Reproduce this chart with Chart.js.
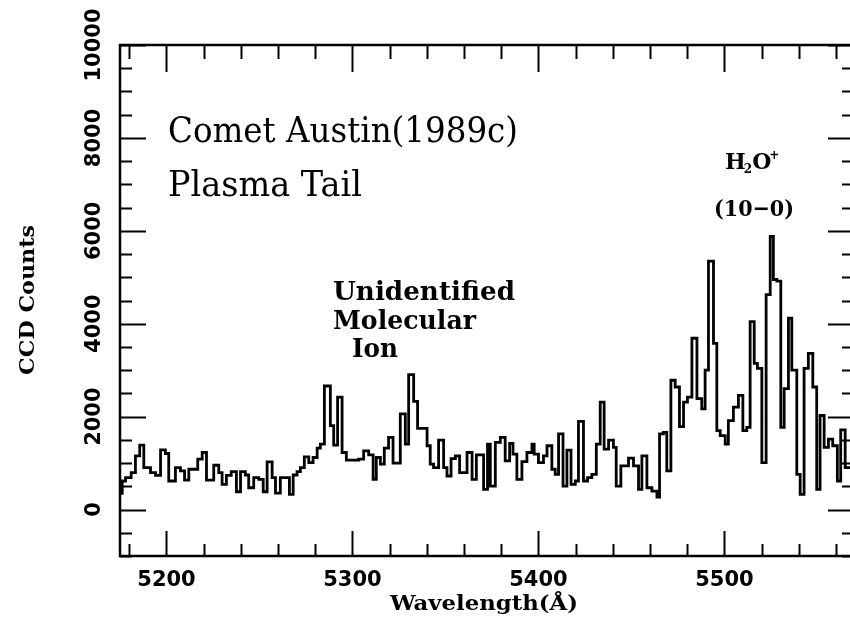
<!DOCTYPE html>
<html>
<head>
<meta charset="utf-8">
<script src="https://cdn.jsdelivr.net/npm/chart.js@4.4.0/dist/chart.umd.min.js"></script>
<style>
  html, body { margin: 0; padding: 0; background: #ffffff; }
  #wrap { width: 850px; height: 620px; }
</style>
</head>
<body>
<div id="wrap"><canvas id="spectrum" width="850" height="620"></canvas></div>
<script>
// wavelength (Å) where each histogram bin starts
const binStart = [
  5175.0, 5176.2, 5178.0, 5181.0, 5183.3, 5185.6, 5187.8, 5191.4, 5194.1, 5196.8,
  5199.4, 5201.2, 5204.8, 5207.5, 5209.7, 5212.0, 5216.8, 5219.2, 5221.5, 5225.4,
  5228.1, 5229.9, 5232.2, 5234.8, 5237.6, 5239.8, 5242.4, 5244.2, 5246.9, 5249.6,
  5252.0, 5254.1, 5256.8, 5258.6, 5261.2, 5266.1, 5268.1, 5270.2, 5272.0, 5274.1,
  5276.5, 5278.8, 5281.0, 5282.7, 5284.9, 5288.1, 5289.9, 5292.0, 5294.4, 5296.7,
  5303.3, 5306.0, 5308.7, 5311.1, 5312.8, 5315.0, 5317.1, 5319.4, 5321.8, 5325.7,
  5328.4, 5330.2, 5332.9, 5335.0, 5340.1, 5341.8, 5343.6, 5346.3, 5349.0, 5350.8,
  5353.0, 5355.3, 5357.6, 5361.6, 5364.3, 5366.6, 5370.5, 5372.6, 5374.1, 5376.8,
  5379.5, 5382.1, 5384.5, 5386.3, 5388.4, 5391.1, 5393.8, 5396.5, 5397.7, 5400.0,
  5402.7, 5404.6, 5407.2, 5409.0, 5410.8, 5413.2, 5415.3, 5417.5, 5419.8, 5421.5,
  5424.2, 5426.4, 5428.7, 5431.1, 5433.2, 5435.3, 5437.7, 5440.3, 5441.8, 5444.3,
  5448.4, 5451.1, 5453.8, 5455.6, 5458.3, 5461.0, 5463.7, 5465.1, 5467.2, 5469.0,
  5471.2, 5473.5, 5475.8, 5478.0, 5480.1, 5482.5, 5485.2, 5487.8, 5489.6, 5491.4,
  5494.1, 5495.9, 5497.7, 5500.4, 5502.1, 5504.8, 5507.5, 5509.9, 5512.0, 5513.8,
  5516.0, 5517.7, 5520.1, 5522.4, 5524.6, 5526.3, 5528.2, 5530.3, 5532.1, 5534.4,
  5536.2, 5538.9, 5540.7, 5542.8, 5545.1, 5547.5, 5549.6, 5551.4, 5553.6, 5555.9,
  5558.2, 5560.7, 5562.5, 5564.9
];
// CCD counts in each bin
const counts = [
  350, 614, 685, 794, 1156, 1388, 902, 794, 737, 1286,
  1206, 614, 902, 831, 635, 867, 1085, 1228, 635, 954,
  794, 542, 737, 816, 383, 816, 744, 469, 685, 650,
  383, 1026, 685, 354, 685, 325, 744, 816, 902, 1134,
  1012, 1120, 1322, 1410, 2660, 1807, 1388, 2420, 1228, 1063,
  1085, 1265, 1178, 650, 1120, 976, 1322, 1553, 1000, 2060,
  1410, 2906, 2327, 1748, 1373, 976, 902, 1496, 902, 722,
  1098, 1156, 794, 1228, 650, 1178, 434, 1410, 505, 1445,
  1553, 1048, 1423, 1193, 650, 1033, 1228, 1410, 1193, 1012,
  1156, 1373, 867, 759, 1627, 505, 1280, 542, 614, 1900,
  614, 685, 759, 1410, 2312, 1301, 1496, 1337, 505, 939,
  1106, 939, 434, 1156, 469, 397, 267, 1627, 1662, 831,
  2783, 2638, 1785, 2312, 2421, 3687, 2386, 2169, 3000, 5349,
  3579, 1698, 1590, 1410, 1915, 2204, 2458, 1698, 1770, 4047,
  3145, 3037, 1012, 4627, 5878, 4952, 4915, 1770, 2603, 4121,
  3000, 759, 325, 3037, 3362, 2638, 434, 2024, 1337, 1518,
  1373, 614, 1713, 902
];
const lastBinEnd = 5567.5;

const xMajorTicks = [5200, 5300, 5400, 5500];
const yMajorTicks = [0, 2000, 4000, 6000, 8000, 10000];
const xMinorStep = 20;
const yMinorStep = 500;

const xRange = [5175, 5567.5];
const yRange = [-1000, 10000];

const spectrumPoints = binStart.map((w, i) => ({ x: w, y: counts[i] }));
spectrumPoints.push({ x: lastBinEnd, y: counts[counts.length - 1] });

// draw text squeezed/stretched to a given width
function fitText(ctx, text, x, y, font, width, align) {
  ctx.save();
  ctx.font = font;
  const w = ctx.measureText(text).width;
  ctx.translate(x, y);
  ctx.scale(width / w, 1);
  ctx.textAlign = align || 'left';
  ctx.textBaseline = 'alphabetic';
  ctx.fillText(text, 0, 0);
  ctx.restore();
}

// H2O+ with a small lowered 2 and raised +
function drawIonLabel(ctx, x, y) {
  const big = 'bold 22px "DejaVu Serif"';
  const small = 'bold 12px "DejaVu Serif"';
  ctx.save();
  ctx.textAlign = 'left';
  ctx.textBaseline = 'alphabetic';
  let cx = x;
  ctx.font = big;
  ctx.fillText('H', cx, y);
  cx += ctx.measureText('H').width - 2;
  ctx.font = small;
  ctx.fillText('2', cx, y + 4);
  cx += ctx.measureText('2').width;
  ctx.font = big;
  ctx.fillText('O', cx, y);
  cx += ctx.measureText('O').width - 2;
  ctx.font = small;
  ctx.fillText('+', cx, y - 10);
  ctx.restore();
}

const frameAndLabels = {
  id: 'frameAndLabels',
  afterDraw(chart) {
    const ctx = chart.ctx;
    const area = chart.chartArea;
    const xs = chart.scales.x;
    const ys = chart.scales.y;

    ctx.save();
    ctx.strokeStyle = '#000';
    ctx.fillStyle = '#000';
    ctx.lineCap = 'butt';

    // frame (right side falls off the page in the original)
    ctx.lineWidth = 2.5;
    ctx.beginPath();
    ctx.moveTo(area.right + 2, area.top);
    ctx.lineTo(area.left, area.top);
    ctx.lineTo(area.left, area.bottom);
    ctx.lineTo(area.right + 2, area.bottom);
    ctx.stroke();

    // inward ticks on all four sides
    ctx.lineWidth = 2;
    const startX = Math.ceil(xRange[0] / xMinorStep) * xMinorStep;
    for (let v = startX; v <= xRange[1]; v += xMinorStep) {
      const px = Math.round(xs.getPixelForValue(v)) + 0.5;
      const len = xMajorTicks.includes(v) ? 25 : 12;
      ctx.beginPath();
      ctx.moveTo(px, area.bottom);
      ctx.lineTo(px, area.bottom - len);
      ctx.moveTo(px, area.top);
      ctx.lineTo(px, area.top + len + 2);
      ctx.stroke();
    }
    for (let v = yRange[0]; v <= yRange[1]; v += yMinorStep) {
      const py = Math.round(ys.getPixelForValue(v)) + 0.5;
      const len = yMajorTicks.includes(v) ? 26 : 12;
      ctx.beginPath();
      ctx.moveTo(area.left, py);
      ctx.lineTo(area.left + len, py);
      ctx.moveTo(area.right, py);
      ctx.lineTo(area.right - len + 4, py);
      ctx.stroke();
    }

    // tick labels
    ctx.font = 'bold 21px "DejaVu Sans"';
    ctx.textAlign = 'center';
    ctx.textBaseline = 'middle';
    xMajorTicks.forEach(v => {
      ctx.fillText(String(v), xs.getPixelForValue(v), 581);
    });
    yMajorTicks.forEach(v => {
      ctx.save();
      ctx.translate(94, ys.getPixelForValue(v));
      ctx.rotate(-Math.PI / 2);
      ctx.fillText(String(v), 0, 1);
      ctx.restore();
    });

    // axis titles
    fitText(ctx, 'Wavelength(Å)', 484, 610, 'bold 20px "DejaVu Serif"', 188, 'center');
    ctx.save();
    ctx.translate(34, 300);
    ctx.rotate(-Math.PI / 2);
    fitText(ctx, 'CCD Counts', 0, 0, 'bold 20px "DejaVu Serif"', 150, 'center');
    ctx.restore();

    // annotations
    fitText(ctx, 'Comet Austin(1989c)', 168, 142, '36px "DejaVu Serif"', 350);
    fitText(ctx, 'Plasma Tail', 168, 196, '36px "DejaVu Serif"', 194);
    fitText(ctx, 'Unidentified', 333, 300, 'bold 26px "DejaVu Serif"', 182);
    fitText(ctx, 'Molecular', 333, 329, 'bold 26px "DejaVu Serif"', 143);
    fitText(ctx, 'Ion', 352, 357, 'bold 26px "DejaVu Serif"', 46);
    drawIonLabel(ctx, 725, 169);
    fitText(ctx, '(10−0)', 754, 216, 'bold 23px "DejaVu Serif"', 80, 'center');

    ctx.restore();
  }
};

new Chart(document.getElementById('spectrum'), {
  type: 'line',
  data: {
    datasets: [{
      data: spectrumPoints,
      stepped: 'before',
      borderColor: '#000000',
      borderWidth: 2.8,
      pointRadius: 0,
      fill: false,
      tension: 0
    }]
  },
  options: {
    responsive: false,
    animation: false,
    layout: { padding: { left: 120, top: 45, right: 0, bottom: 64 } },
    plugins: {
      legend: { display: false },
      tooltip: { enabled: false }
    },
    scales: {
      x: { type: 'linear', min: xRange[0], max: xRange[1], display: false },
      y: { type: 'linear', min: yRange[0], max: yRange[1], display: false }
    }
  },
  plugins: [frameAndLabels]
});
</script>
</body>
</html>
